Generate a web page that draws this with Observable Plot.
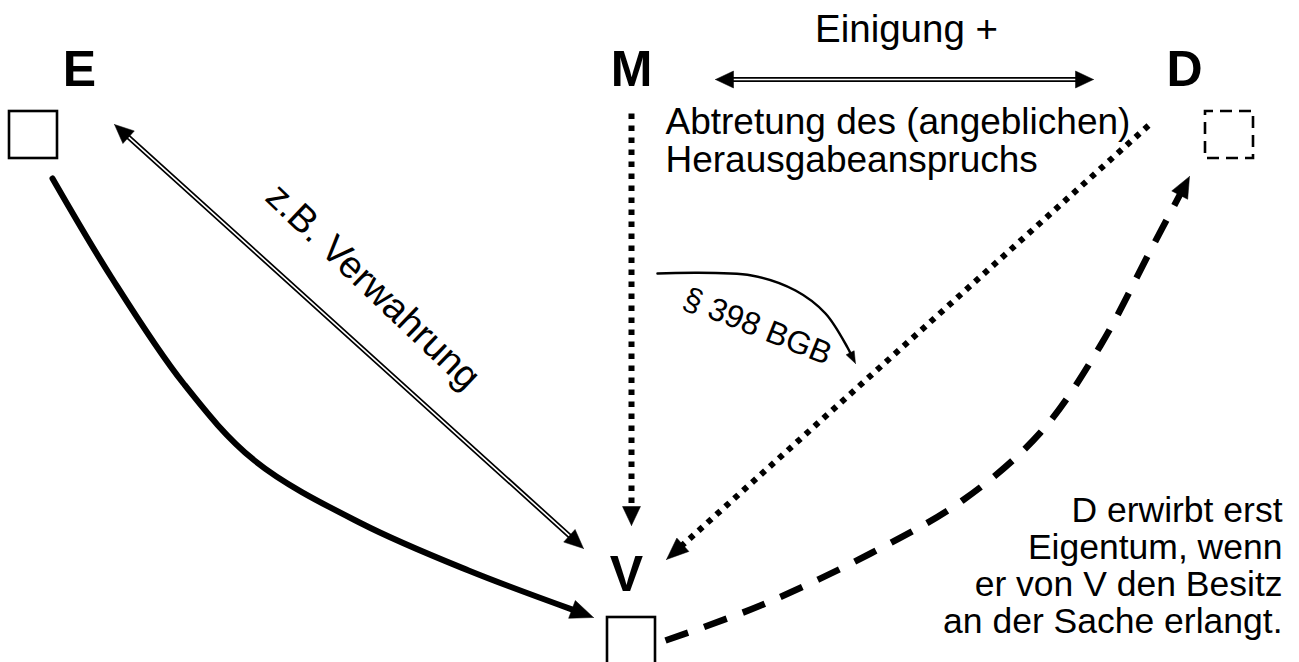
<!DOCTYPE html>
<html>
<head>
<meta charset="utf-8">
<script src="https://cdn.jsdelivr.net/npm/d3@7"></script>
<script src="https://cdn.jsdelivr.net/npm/@observablehq/plot@0.6"></script>
<style>
  html, body { margin: 0; padding: 0; background: #fff; }
  #chart svg { display: block; }
</style>
</head>
<body>
<div id="chart"></div>
<script>
// ---------- data ----------
const nodeNames = ["E", "M", "D", "V"];
const nodeX = [79, 631, 1184, 626];
const nodeY = [69, 69, 69, 574];

const boxNames = ["E", "D", "V"];
const boxX1 = [9, 1205, 607];
const boxX2 = [57, 1253, 655];
const boxY1 = [111, 111, 617];
const boxY2 = [158, 158, 665];
const boxDashed = [false, true, false];

// E -> V (solid curve)
const solidX = [52, 111, 183, 254, 361, 468, 593];
const solidY = [178, 277, 383, 460, 523, 570, 617];

// V -> D (dashed curve)
const dashedX = [665, 760, 870, 962, 1040, 1100, 1150, 1189];
const dashedY = [640, 605, 553, 500, 432, 345, 250, 176];

// M -> V dotted, D -> V dotted
const dotMX = [631, 631];
const dotMY = [113, 525];
const dotDX = [1148, 666];
const dotDY = [125, 559];

// E <-> V double line, M <-> D double line (Einigung)
const dblEVX = [114, 583];
const dblEVY = [124, 548];
const dblMDX = [715, 1093];
const dblMDY = [79, 79];

// § 398 BGB arc
const arcX = [657, 751, 795, 825, 847, 855];
const arcY = [273, 275, 290, 313, 347, 363];

// texts
const topLabel = "Einigung +";
const abtretungLines = ["Abtretung des (angeblichen)", "Herausgabeanspruchs"];
const noteLines = ["D erwirbt erst", "Eigentum, wenn", "er von V den Besitz", "an der Sache erlangt."];
const verwahrungLabel = "z.B. Verwahrung";
const bgbLabel = "§ 398 BGB";

// ---------- helpers ----------
function pts(id, xs, ys) { return xs.map((x, i) => ({id, x, y: ys[i]})); }
function unit(ax, ay, bx, by) { const dx = bx - ax, dy = by - ay, d = Math.hypot(dx, dy); return [dx / d, dy / d]; }
function head(id, tipX, tipY, fromX, fromY, len, wid) {
  const [ux, uy] = unit(fromX, fromY, tipX, tipY);
  const bx = tipX - ux * len, by = tipY - uy * len, px = -uy, py = ux;
  return [
    {id, x: tipX, y: tipY},
    {id, x: bx + px * wid / 2, y: by + py * wid / 2},
    {id, x: bx - px * wid / 2, y: by - py * wid / 2},
    {id, x: tipX, y: tipY}
  ];
}
function trimmed(id, xs, ys, endLen, startLen = 0) {
  const p = pts(id, xs, ys).map(d => ({...d}));
  const n = p.length;
  if (endLen) {
    const [ux, uy] = unit(p[n - 2].x, p[n - 2].y, p[n - 1].x, p[n - 1].y);
    p[n - 1].x -= ux * (endLen - 2); p[n - 1].y -= uy * (endLen - 2);
  }
  if (startLen) {
    const [ux, uy] = unit(p[1].x, p[1].y, p[0].x, p[0].y);
    p[0].x -= ux * (startLen - 2); p[0].y -= uy * (startLen - 2);
  }
  return p;
}
const last = (a, k = 1) => a[a.length - k];

const heads = [
  ...head("solid", last(solidX), last(solidY), last(solidX, 2), last(solidY, 2), 23, 19),
  ...head("dashed", last(dashedX), last(dashedY), last(dashedX, 2), last(dashedY, 2), 21, 18),
  ...head("dotM", last(dotMX), last(dotMY), dotMX[0], dotMY[0], 19, 18),
  ...head("dotD", last(dotDX), last(dotDY), dotDX[0], dotDY[0], 22, 18),
  ...head("ev1", dblEVX[1], dblEVY[1], dblEVX[0], dblEVY[0], 19, 17),
  ...head("ev0", dblEVX[0], dblEVY[0], dblEVX[1], dblEVY[1], 19, 17),
  ...head("md1", dblMDX[1], dblMDY[1], dblMDX[0], dblMDY[0], 18, 17),
  ...head("md0", dblMDX[0], dblMDY[0], dblMDX[1], dblMDY[1], 18, 17),
  ...head("arc", last(arcX), last(arcY), last(arcX, 2), last(arcY, 2), 12, 9)
];

const boxes = boxNames.map((name, i) => ({name, x1: boxX1[i], x2: boxX2[i], y1: boxY1[i], y2: boxY2[i], dashed: boxDashed[i]}));
const nodes = nodeNames.map((name, i) => ({name, x: nodeX[i], y: nodeY[i]}));

const solidPath = trimmed("solid", solidX, solidY, 23);
const dashedPath = trimmed("dashed", dashedX, dashedY, 21);
const dotMPath = trimmed("dotM", dotMX, dotMY, 19);
const dotDPath = trimmed("dotD", dotDX, dotDY, 22);
const evPath = trimmed("ev", dblEVX, dblEVY, 19, 19);
const mdPath = trimmed("md", dblMDX, dblMDY, 18, 18);
const arcPath = trimmed("arc", arcX, arcY, 12);

const evMid = {x: (dblEVX[0] + dblEVX[1]) / 2, y: (dblEVY[0] + dblEVY[1]) / 2};
const evAngle = Math.atan2(dblEVY[1] - dblEVY[0], dblEVX[1] - dblEVX[0]) * 180 / Math.PI;

const FONT = "Liberation Sans, Arial, Helvetica, sans-serif";

const chart = Plot.plot({
  width: 1299,
  height: 662,
  margin: 0,
  x: {axis: null, domain: [0, 1299], range: [0, 1299]},
  y: {axis: null, domain: [0, 662], range: [0, 662]},
  style: {fontFamily: FONT, background: "white"},
  marks: [
    Plot.rect(boxes.filter(d => !d.dashed), {x1: "x1", x2: "x2", y1: "y1", y2: "y2", fill: "white", stroke: "black", strokeWidth: 2.6}),
    Plot.rect(boxes.filter(d => d.dashed), {x1: "x1", x2: "x2", y1: "y1", y2: "y2", fill: "white", stroke: "black", strokeWidth: 2.6, strokeDasharray: "12,7", strokeDashoffset: 4}),
    Plot.line(solidPath, {x: "x", y: "y", curve: "catmull-rom", stroke: "black", strokeWidth: 6}),
    Plot.line(dashedPath, {x: "x", y: "y", curve: "catmull-rom", stroke: "black", strokeWidth: 6.5, strokeDasharray: "24,17", strokeLinecap: "butt"}),
    Plot.line(dotMPath, {x: "x", y: "y", stroke: "black", strokeWidth: 6, strokeDasharray: "5.5,6.5", strokeLinecap: "butt"}),
    Plot.line(dotDPath, {x: "x", y: "y", stroke: "black", strokeWidth: 6, strokeDasharray: "5.5,6.5", strokeLinecap: "butt"}),
    Plot.line(evPath, {x: "x", y: "y", stroke: "black", strokeWidth: 5}),
    Plot.line(evPath, {x: "x", y: "y", stroke: "white", strokeWidth: 1.6}),
    Plot.line(mdPath, {x: "x", y: "y", stroke: "black", strokeWidth: 5}),
    Plot.line(mdPath, {x: "x", y: "y", stroke: "white", strokeWidth: 1.6}),
    Plot.line(arcPath, {x: "x", y: "y", curve: "catmull-rom", stroke: "black", strokeWidth: 2.5}),
    Plot.line(heads, {x: "x", y: "y", z: "id", fill: "black", stroke: "black", strokeWidth: 0.5, strokeLinejoin: "miter"}),
    Plot.text(nodes, {x: "x", y: "y", text: "name", fontSize: 50, fontWeight: "bold", fill: "black"}),
    Plot.text([topLabel], {x: (dblMDX[0] + dblMDX[1]) / 2 + 2, y: 29, text: d => d, fontSize: 38.5, fill: "black"}),
    Plot.text([abtretungLines.join("\n")], {x: 665, y: 140, text: d => d, fontSize: 37, lineHeight: 38 / 37, textAnchor: "start", fill: "black"}),
    Plot.text([noteLines.join("\n")], {x: 1282, y: 565, text: d => d, fontSize: 35.5, lineHeight: 37 / 35.5, textAnchor: "end", fill: "black"}),
    Plot.text([verwahrungLabel], {x: evMid.x + 24, y: evMid.y - 50, text: d => d, fontSize: 38, rotate: evAngle + 1.5, fill: "black"}),
    Plot.text([bgbLabel], {x: 757, y: 326, text: d => d, fontSize: 32, rotate: 22, fill: "black"})
  ]
});
document.getElementById("chart").appendChild(chart);
</script>
</body>
</html>
